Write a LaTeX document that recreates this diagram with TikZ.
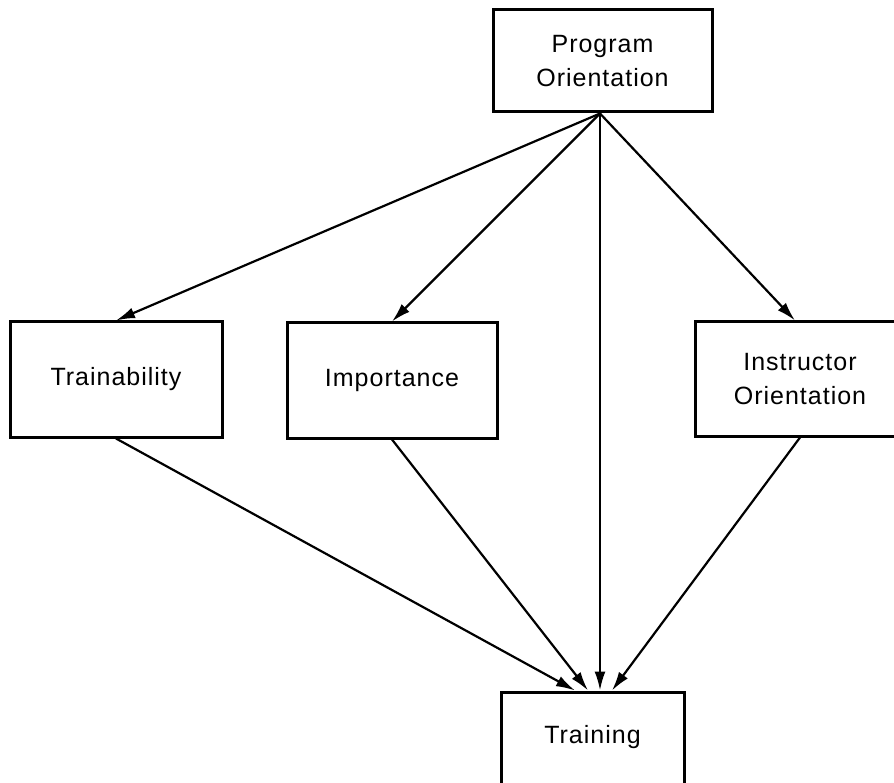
\documentclass[tikz,border=0pt]{standalone}
\usepackage{fontspec}
\setmainfont{Liberation Sans}[LetterSpace=4]
\usetikzlibrary{arrows.meta}

\begin{document}
\begin{tikzpicture}[x=1pt,y=1pt,>={Latex[length=19pt,width=11pt]},
	box/.style={draw,line width=3pt,align=center,inner sep=0pt,
		font=\fontsize{25}{34}\selectfont}]
	\useasboundingbox (0,0) rectangle (894,-783);
	        \node[box,minimum width=219pt,minimum height=102pt] at (602.5,-61)  (prog) {Program\\Orientation};
	        \node[box,minimum width=212pt,minimum height=115pt] at (116,-379.5)  (train) {Trainability};
	        \node[box,minimum width=210pt,minimum height=115pt] at (392,-380.5)  (imp) {Importance};
	        \node[box,minimum width=210pt,minimum height=114pt] at (800,-379)  (instr) {Instructor\\Orientation};
	        \node[box,minimum width=183pt,text height=51pt,text depth=60pt,anchor=base] at (592.5,-743)  (trng) {Training};
		
			\path[->,line width=2.2pt] ([xshift=-2.5pt]prog.south) edge (train.north)
							edge (imp.north)
							edge ([xshift=-5pt]instr.north)
							edge ([xshift=7.5pt]trng.north)
							(train.south) edge ([xshift=-17.5pt]trng.north)
							(imp.south) edge ([xshift=-4.5pt]trng.north)
							(instr.south) edge ([xshift=19.5pt]trng.north);
		\end{tikzpicture}
\end{document}
